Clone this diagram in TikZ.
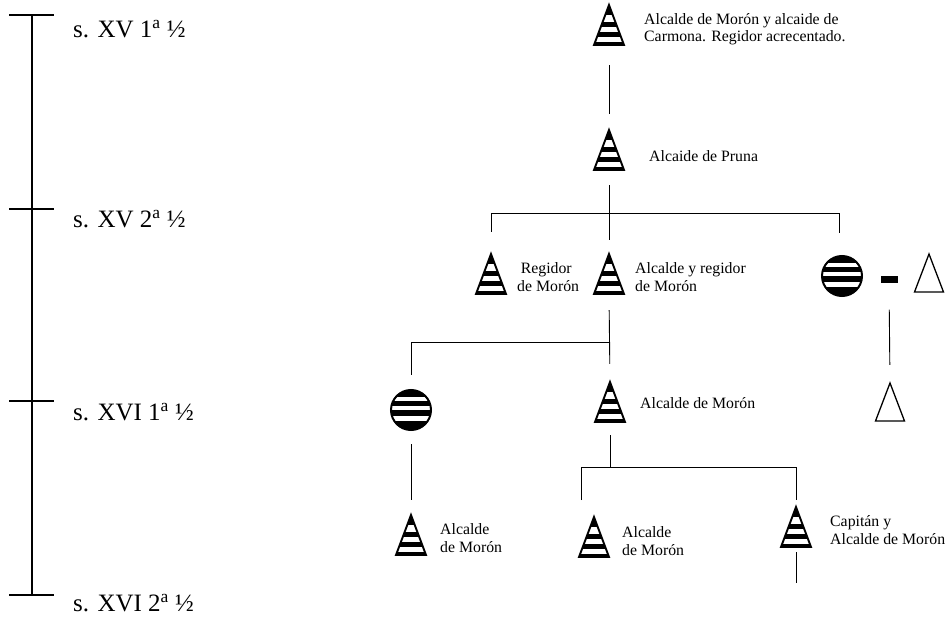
\documentclass[tikz,border=0pt]{standalone}
\usepackage{fontspec}
\setmainfont{Liberation Serif}
\usetikzlibrary{calc}
\tikzset{
  pics/stritri/.style={code={
    \begin{scope}
      \clip (0,-20) -- (-15,20) -- (15,20) -- cycle;
      \fill[black] (-16,-21) rectangle (16,-10);
      \fill[black] (-16,-3.2) rectangle (16,1.6);
      \fill[black] (-16,6.8) rectangle (16,11.6);
      \fill[black] (-16,16.8) rectangle (16,21);
    \end{scope}
    \draw[line width=1.9pt, line join=miter] (0,-20) -- (-15,20) -- (15,20) -- cycle;
  }},
  pics/stricirc/.style={code={
    \begin{scope}
      \clip (0,0) circle (20);
      \fill[black] (-21,-21) rectangle (21,-13.5);
      \fill[black] (-21,-8.8) rectangle (21,-4);
      \fill[black] (-21,0) rectangle (21,5.6);
      \fill[black] (-21,11.2) rectangle (21,21);
    \end{scope}
    \draw[line width=2pt] (0,0) circle (20);
  }},
  pics/opentri/.style={code={
    \draw[line width=1.3pt, line join=miter] (0,-19) -- (-14.5,19) -- (14.5,19) -- cycle;
  }},
  tribox/.style={rectangle, inner sep=0pt, minimum width=30pt, minimum height=40pt},
  opbox/.style={rectangle, inner sep=0pt, minimum width=29pt, minimum height=38pt},
  circbox/.style={circle, inner sep=0pt, minimum size=40pt},
  dashbox/.style={rectangle, fill=black, inner sep=0pt, minimum width=17pt, minimum height=7pt},
  conn/.style={line width=0.9pt, black},
  lbl/.style={anchor=west, inner sep=0pt, align=left, font=\fontsize{15.8}{17.5}\selectfont},
  era/.style={anchor=west, inner sep=0pt, font=\fontsize{25}{28}\selectfont},
  axis/.style={line width=2pt, black}
}
\begin{document}
\begin{tikzpicture}[x=1pt,y=-1pt]
\useasboundingbox (0,0) rectangle (946,618);

% ---------- timeline ----------
\coordinate (a0) at (32,15);
\coordinate (a1) at (32,209);
\coordinate (a2) at (32,401);
\coordinate (a3) at (32,595);
\draw[axis] (a0) -- (a3);
\foreach \c in {a0,a1,a2,a3} {
  \draw[axis] ($(\c)+(-23,0)$) -- ($(\c)+(22,0)$);
}
\node[era] (e0) at (73,29) {s. XV 1\textsuperscript{a} ½};
\node[era] (e1) at (73,219) {s. XV 2\textsuperscript{a} ½};
\node[era] (e2) at (73,412) {s. XVI 1\textsuperscript{a} ½};
\node[era] (e3) at (73,603) {s. XVI 2\textsuperscript{a} ½};

% ---------- symbols ----------
\node[tribox] (t0) at (609,25) {};  \pic at (t0) {stritri};
\node[tribox] (t1) at (609,150) {}; \pic at (t1) {stritri};
\node[tribox] (t2a) at (491,274) {}; \pic at (t2a) {stritri};
\node[tribox] (t2b) at (609,274) {}; \pic at (t2b) {stritri};
\node[circbox] (c2) at (842,276) {}; \pic at (c2) {stricirc};
\node[dashbox] (d2) at (889,279) {};
\node[opbox] (o2) at (929,273) {}; \pic at (o2) {opentri};
\node[opbox] (o3) at (890,402) {}; \pic at (o3) {opentri};
\node[circbox] (c3) at (411,410) {}; \pic at (c3) {stricirc};
\node[tribox] (t3) at (610,402) {}; \pic at (t3) {stritri};
\node[tribox] (t4a) at (411,535) {}; \pic at (t4a) {stritri};
\node[tribox] (t4b) at (594,537) {}; \pic at (t4b) {stritri};
\node[tribox] (t4c) at (796,527) {}; \pic at (t4c) {stritri};

% ---------- labels ----------
\node[lbl] (l0) at (644,29) {Alcalde de Morón y alcaide de\\Carmona. Regidor acrecentado.};
\node[lbl] (l1) at (649,156) {Alcaide de Pruna};
\node[lbl] (l2a) at (517,277) {\hspace{3.6pt}Regidor\\de Morón};
\node[lbl] (l2b) at (635,277) {Alcalde y regidor\\de Morón};
\node[lbl] (l3) at (640,403) {Alcalde de Morón};
\node[lbl] (l4a) at (440,538) {Alcalde\\de Morón};
\node[lbl] (l4b) at (622,541) {Alcalde\\de Morón};
\node[lbl] (l4c) at (830,530) {Capitán y\\Alcalde de Morón};

% ---------- connectors ----------
\coordinate (bar1) at (609,213);
\coordinate (s2c) at (839,233);
\coordinate (bar2) at (609,342);
\coordinate (bar3) at (610,467);
\coordinate (s4b) at (581,500);
\coordinate (end4) at (796,583);

\draw[conn, shorten <=20pt, shorten >=16pt] (t0.south) -- (t1.north);
\draw[conn, shorten <=15pt, shorten >=14pt] (t1.south) -- (t2b.north);
\draw[conn, shorten <=22pt] (t2a.north) -- (bar1 -| t2a.north) -- (bar1 -| s2c) -- (s2c);

\draw[conn, shorten <=16pt, shorten >=18pt] (t2b.south) -- (t3.north);
\draw[conn, shorten <=15pt] (c3.north) -- (bar2 -| c3.north) -- (bar2);

\draw[conn, shorten <=27pt, shorten >=18pt] (d2.south) -- (o3.north);
\draw[conn, shorten <=14pt, shorten >=15pt] (c3.south) -- (t4a.north);

\draw[conn, shorten <=13pt] (t3.south) -- (bar3);
\draw[conn] (s4b) -- (bar3 -| s4b) -- (bar3 -| t4c.north);
\draw[conn, shorten >=7pt] (bar3 -| t4c.north) -- (t4c.north);
\draw[conn, shorten <=5pt] (t4c.south) -- (end4);
\end{tikzpicture}
\end{document}
